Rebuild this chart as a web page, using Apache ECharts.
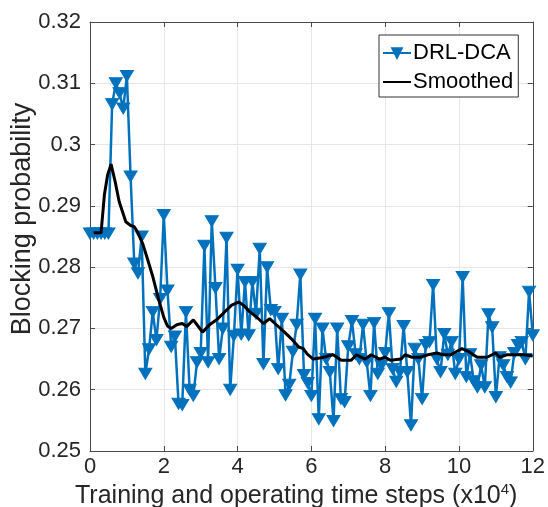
<!DOCTYPE html>
<html>
<head>
<meta charset="utf-8">
<script src="https://cdn.jsdelivr.net/npm/echarts@6/dist/echarts.min.js"></script>
<style>html,body{margin:0;padding:0;background:#fff;}#c{width:548px;height:507px;}</style>
</head>
<body>
<div id="c"></div>
<script>
// Time steps (x10^4)
var steps = [
 0,0.1,0.2,0.3,0.4,0.5,0.6,0.7,0.8,0.9,
 1,1.1,1.2,1.3,1.4,1.5,1.6,1.7,1.8,1.9,
 2,2.1,2.2,2.3,2.4,2.5,2.6,2.7,2.8,2.9,
 3,3.1,3.2,3.3,3.4,3.5,3.6,3.7,3.8,3.9,
 4,4.1,4.2,4.3,4.4,4.5,4.6,4.7,4.8,4.9,
 5,5.1,5.2,5.3,5.4,5.5,5.6,5.7,5.8,5.9,
 6,6.1,6.2,6.3,6.4,6.5,6.6,6.7,6.8,6.9,
 7,7.1,7.2,7.3,7.4,7.5,7.6,7.7,7.8,7.9,
 8,8.1,8.2,8.3,8.4,8.5,8.6,8.7,8.8,8.9,
 9,9.1,9.2,9.3,9.4,9.5,9.6,9.7,9.8,9.9,
 10,10.1,10.2,10.3,10.4,10.5,10.6,10.7,10.8,10.9,
 11,11.1,11.2,11.3,11.4,11.5,11.6,11.7,11.8,11.9,
 12
];
// DRL-DCA blocking probability
var drlDca = [
 0.2855,0.2855,0.2855,0.2855,0.2855,0.2855,0.3066,0.3100,0.3084,0.3059,
 0.3112,0.2948,0.2806,0.2790,0.2850,0.2626,0.2666,0.2727,0.2681,0.2748,
 0.2885,0.2762,0.2670,0.2687,0.2577,0.2575,0.2727,0.2600,0.2590,0.2645,
 0.2660,0.2835,0.2645,0.2875,0.2766,0.2650,0.2700,0.2848,0.2600,0.2688,
 0.2796,0.2690,0.2776,0.2689,0.2776,0.2724,0.2830,0.2642,0.2800,0.2730,
 0.2727,0.2634,0.2716,0.2591,0.2608,0.2662,0.2706,0.2788,0.2624,0.2611,
 0.2590,0.2716,0.2552,0.2700,0.2650,0.2629,0.2549,0.2700,0.2585,0.2580,
 0.2671,0.2712,0.2658,0.2650,0.2706,0.2645,0.2590,0.2709,0.2626,0.2640,
 0.2660,0.2725,0.2634,0.2613,0.2629,0.2704,0.2629,0.2542,0.2667,0.2650,
 0.2585,0.2673,0.2678,0.2771,0.2650,0.2629,0.2691,0.2657,0.2678,0.2626,
 0.2650,0.2784,0.2621,0.2658,0.2614,0.2604,0.2640,0.2604,0.2723,0.2702,
 0.2588,0.2653,0.2640,0.2621,0.2612,0.2660,0.2673,0.2678,0.2650,0.2760,
 0.2689
];
// Smoothed curve (x, value)
var smoothX = [0.1,0.3,0.39,0.48,0.57,0.68,0.79,0.97,1.1,1.2,1.3,1.43,1.55,1.7,1.85,2.0,2.1,2.2,2.35,2.5,2.62,2.8,2.9,3.05,3.24,3.43,3.57,3.7,3.84,4.03,4.16,4.33,4.51,4.7,4.87,5.05,5.27,5.46,5.65,5.78,5.89,6.05,6.27,6.45,6.59,6.81,7.08,7.22,7.46,7.62,7.84,8.0,8.14,8.43,8.54,8.73,8.95,9.16,9.4,9.57,9.78,9.92,10.08,10.27,10.49,10.76,11.0,11.1,11.3,11.49,11.76,12.0];
var smoothY = [0.2856,0.2856,0.2918,0.2951,0.2968,0.2940,0.2907,0.2874,0.2868,0.2866,0.2856,0.2838,0.2815,0.2785,0.2750,0.2718,0.2704,0.2700,0.2706,0.2708,0.2703,0.2714,0.2706,0.2694,0.2706,0.2714,0.2722,0.2730,0.2738,0.2743,0.2738,0.2727,0.2719,0.2708,0.2716,0.2706,0.2694,0.2683,0.2670,0.2667,0.2658,0.2650,0.2652,0.2655,0.2657,0.2648,0.2648,0.2657,0.2650,0.2657,0.2650,0.2653,0.2648,0.2650,0.2657,0.2653,0.2653,0.2657,0.2660,0.2657,0.2657,0.2662,0.2667,0.2662,0.2653,0.2653,0.2660,0.2653,0.2657,0.2657,0.2657,0.2655];
var xTicks = [0,2,4,6,8,10,12];
var yTicks = [0.25,0.26,0.27,0.28,0.29,0.30,0.31,0.32];

var FONT = 'Liberation Sans, Arial, Helvetica, sans-serif';
var TXT = '#262626';
var AX = '#4a4a4a';
var chart = echarts.init(document.getElementById('c'), null, {renderer: 'canvas'});

var dataMain = steps.map(function (s, i) { return [s, drlDca[i]]; });
var dataSmooth = smoothX.map(function (s, i) { return [s, smoothY[i]]; });

var fmtY = function (v) { return String(parseFloat(v.toFixed(2))); };

chart.setOption({
  animation: false,
  backgroundColor: '#fff',
  grid: {left: 90, right: 14, top: 22, bottom: 56, containLabel: false},
  xAxis: [{
    type: 'value', min: xTicks[0], max: xTicks[xTicks.length - 1], interval: 2,
    axisLine: {show: true, onZero: false, lineStyle: {color: AX, width: 1}},
    axisTick: {show: true, inside: true, length: 5, lineStyle: {color: AX}},
    axisLabel: {color: TXT, fontSize: 22, fontFamily: FONT, margin: 5},
    splitLine: {show: true, lineStyle: {color: '#e6e6e6', width: 1}}
  }, {
    type: 'value', position: 'top', min: xTicks[0], max: xTicks[xTicks.length - 1], interval: 2,
    axisLine: {show: true, onZero: false, lineStyle: {color: AX, width: 1}},
    axisTick: {show: true, inside: true, length: 5, lineStyle: {color: AX}},
    axisLabel: {show: false}, splitLine: {show: false}
  }],
  yAxis: [{
    type: 'value', min: yTicks[0], max: yTicks[yTicks.length - 1], interval: 0.01,
    axisLine: {show: true, onZero: false, lineStyle: {color: AX, width: 1}},
    axisTick: {show: true, inside: true, length: 5, lineStyle: {color: AX}},
    axisLabel: {color: TXT, fontSize: 22, fontFamily: FONT, margin: 9, formatter: fmtY},
    splitLine: {show: true, lineStyle: {color: '#e6e6e6', width: 1}}
  }, {
    type: 'value', position: 'right', min: yTicks[0], max: yTicks[yTicks.length - 1], interval: 0.01,
    axisLine: {show: true, onZero: false, lineStyle: {color: AX, width: 1}},
    axisTick: {show: true, inside: true, length: 5, lineStyle: {color: AX}},
    axisLabel: {show: false}, splitLine: {show: false}
  }],
  legend: {
    orient: 'vertical', left: 379, top: 35,
    backgroundColor: '#fff', borderColor: '#333', borderWidth: 1, borderRadius: 0,
    padding: [7, 5, 4, 3], itemGap: 7, itemWidth: 28, itemHeight: 12,
    textStyle: {color: '#000', fontSize: 22, fontFamily: FONT, lineHeight: 22, padding: [0, 0, 0, -3]},
    data: [
      {name: 'DRL-DCA'},
      {name: 'Smoothed', itemStyle: {opacity: 0}}
    ]
  },
  series: [{
    name: 'DRL-DCA', type: 'line', data: dataMain,
    symbol: 'triangle', symbolRotate: 180, symbolSize: [13, 11], showAllSymbol: true,
    lineStyle: {color: '#0072BD', width: 2.5},
    itemStyle: {color: '#0072BD', borderColor: '#0072BD', borderWidth: 1},
    z: 2
  }, {
    name: 'Smoothed', type: 'line', data: dataSmooth, showSymbol: false, symbol: 'none',
    lineStyle: {color: '#000', width: 3}, itemStyle: {color: '#000'},
    z: 3
  }],
  graphic: [{
    type: 'text', left: 75, top: 482,
    style: {
      text: 'Training and operating time steps (x10{sup|4})',
      font: '25px ' + FONT, fill: TXT,
      rich: {sup: {fontSize: 15, fontFamily: FONT, fill: TXT, padding: [0, 0, 14, 0]}}
    }
  }, {
    type: 'text', x: 23, y: 219, rotation: Math.PI / 2,
    style: {
      text: 'Blocking probability', font: '27px ' + FONT, fill: TXT,
      textAlign: 'center', textVerticalAlign: 'middle'
    }
  }]
});
</script>
</body>
</html>
